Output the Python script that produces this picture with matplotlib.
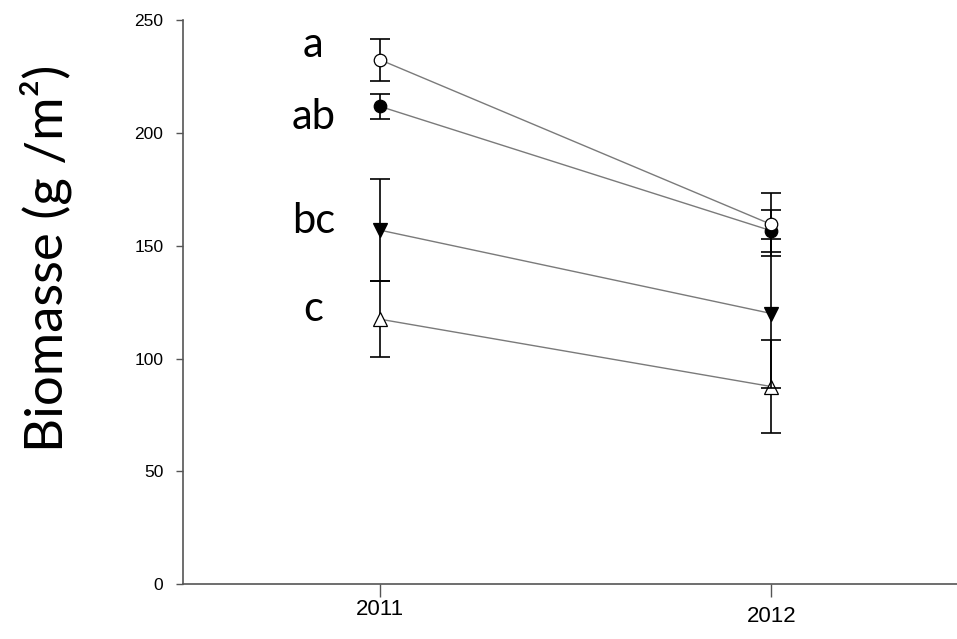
import matplotlib
matplotlib.use('Agg')
import matplotlib.pyplot as plt
import matplotlib.transforms as mtransforms

# data
years = [2011, 2012]
open_circle = [232.6, 159.5]
open_circle_err = [9.3, 14.0]
filled_circle = [211.9, 156.7]
filled_circle_err = [5.6, 9.3]
filled_tri = [157.0, 120.0]
filled_tri_err = [22.5, 33.0]
open_tri = [117.5, 87.6]
open_tri_err = [17.0, 20.7]

letters = ['a', 'ab', 'bc', 'c']
letter_y = [239, 207, 161, 122]

yticks = [0, 50, 100, 150, 200, 250]

fig = plt.figure(figsize=(9.57, 6.39), dpi=100)
ax = fig.add_axes([0.191, 0.086, 0.809, 0.882])

line_col = '#7a7a7a'

def series(y, err, marker, face, z):
    ax.plot(years, y, '-', color=line_col, lw=1.0, zorder=z)
    ax.errorbar(years, y, yerr=err, fmt='none', ecolor='black', elinewidth=1.2,
                capsize=7, capthick=1.2, zorder=z + 0.1)
    ax.plot(years, y, linestyle='none', marker=marker, markersize=10 if marker != 'o' else 9,
            markerfacecolor=face, markeredgecolor='black', markeredgewidth=0.9, zorder=z + 0.2)

series(open_tri, open_tri_err, '^', 'white', 2)
series(filled_tri, filled_tri_err, 'v', 'black', 3)
series(filled_circle, filled_circle_err, 'o', 'black', 4)
series(open_circle, open_circle_err, 'o', 'white', 5)

for lab, ly in zip(letters, letter_y):
    ax.text(2010.83, ly, lab, fontsize=30, family='Lato', ha='center', va='center')

ax.set_xlim(2010.497, 2012.474)
ax.set_ylim(0, 250)
ax.set_yticks(yticks)
ax.set_xticks(years)
ax.set_xticklabels([str(y) for y in years])

for s in ['top', 'right']:
    ax.spines[s].set_visible(False)
for s in ['left', 'bottom']:
    ax.spines[s].set_color('#555555')
    ax.spines[s].set_linewidth(1.2)

ax.tick_params(axis='y', direction='out', length=5, width=1, color='#555555',
               pad=9, labelsize=12.5)
ax.tick_params(axis='x', direction='out', length=9, width=1, color='#555555',
               pad=2, labelsize=16)
for t in ax.get_xticklabels() + ax.get_yticklabels():
    t.set_family('Liberation Sans')

# 2012 label sits a little lower in the reference
lbl = ax.get_xticklabels()[1]
lbl.set_transform(lbl.get_transform() + mtransforms.ScaledTranslation(0, -5 / 72, fig.dpi_scale_trans))

fig.text(0.048, 0.596, 'Biomasse (g /m²)', rotation=90, fontsize=38, family='Lato',
         ha='center', va='center')

fig.savefig('out.png', dpi=100)
